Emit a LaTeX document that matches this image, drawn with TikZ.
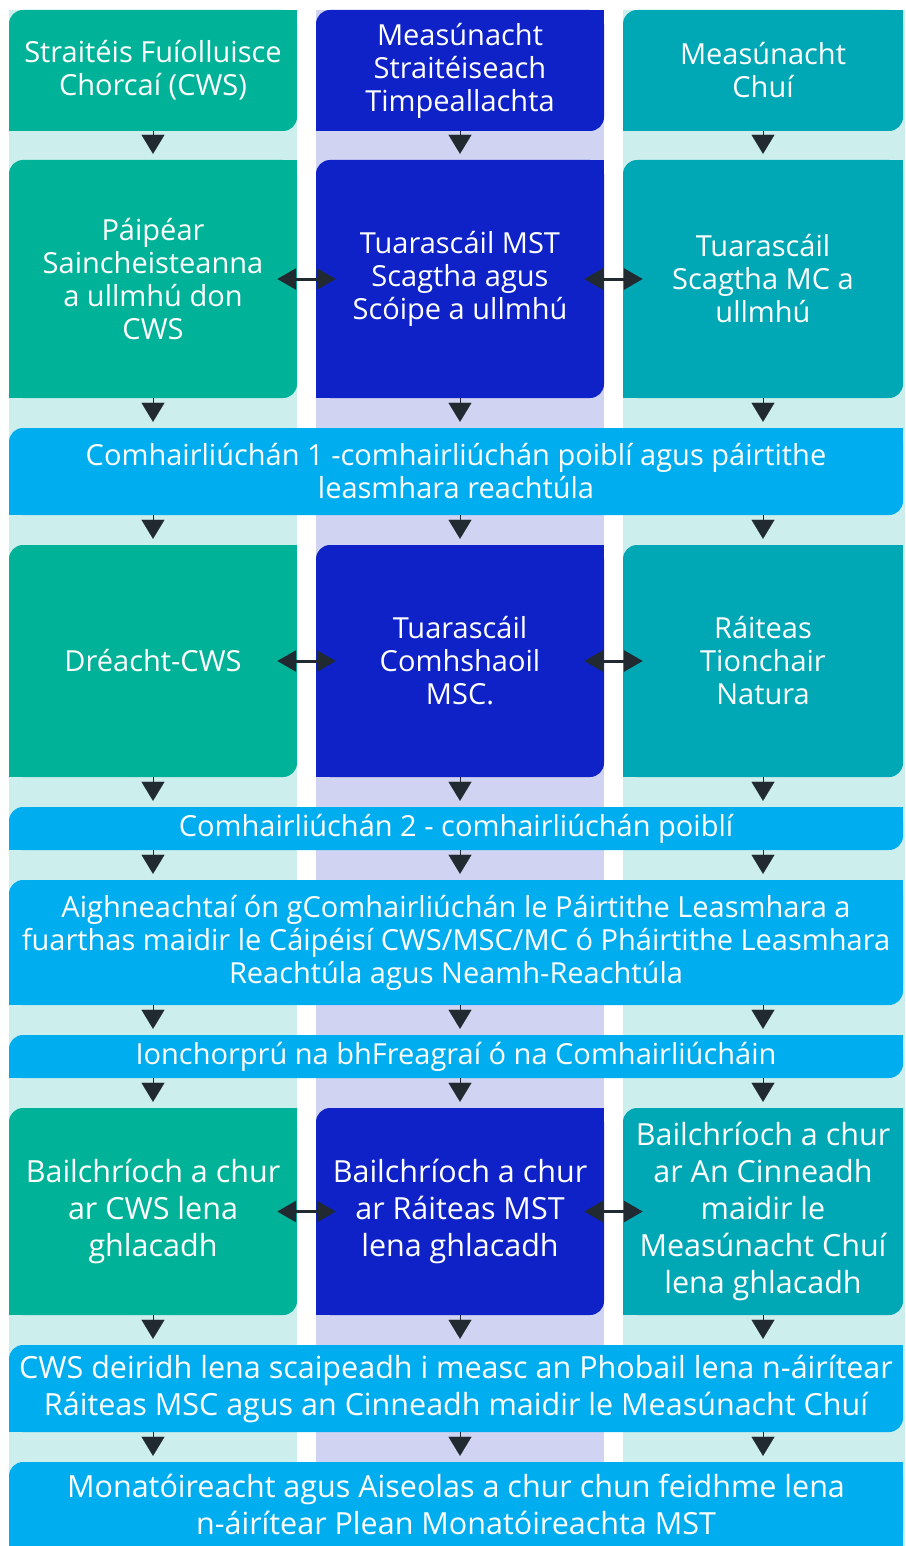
\documentclass[tikz,border=0pt]{standalone}
\usepackage{fontspec}
\setmainfont{Open Sans}
\usetikzlibrary{arrows.meta}

\definecolor{leafgreen}{HTML}{00B398}
\definecolor{deepblue}{HTML}{0E22C8}
\definecolor{aquateal}{HTML}{00A8B5}
\definecolor{skyblue}{HTML}{00AEEF}
\definecolor{paleteal}{HTML}{CCEEEC}
\definecolor{palelilac}{HTML}{D0D3F2}
\definecolor{arrowdark}{HTML}{212A30}

\pgfdeclarelayer{background}
\pgfsetlayers{background,main}

\begin{document}
\begin{tikzpicture}[x=1pt, y=-1pt,
    box/.style={fill=#1, rounded corners=14pt, text=white, align=center,
        inner sep=0pt, font=\fontsize{29}{33}\selectfont},
    colbox/.style={box=#1, minimum width=288pt},
    widebox/.style={box=skyblue, minimum width=894pt},
    big/.style={font=\fontsize{30.5}{37}\selectfont},
    flow/.style={arrowdark, line width=0.1pt, shorten >=6pt,
        -{Triangle[width=23pt,length=19pt]}},
    link/.style={arrowdark, line width=3pt, shorten <=-20pt, shorten >=-20pt,
        {Triangle[width=21pt,length=19pt]}-{Triangle[width=21pt,length=19pt]}}
]

\useasboundingbox (0,0) rectangle (905,1546);
\clip (0,0) rectangle (905,1546);

% Column lanes
\begin{pgfonlayer}{background}
\fill[paleteal] (9,10) rectangle (297,1546);
\fill[palelilac] (316,10) rectangle (604,1546);
\fill[paleteal] (623,10) rectangle (905,1546);
\end{pgfonlayer}

% Row 1
\node[colbox=leafgreen, minimum height=121pt] (l1) at (153,70.5) {Straitéis Fuíolluisce\\Chorcaí (CWS)};
\node[colbox=deepblue, minimum height=121pt] (m1) at (460,70.5) {Measúnacht\\Straitéiseach\\Timpeallachta};
\node[colbox=aquateal, minimum height=121pt, minimum width=280pt] (r1) at (763,70.5) {Measúnacht\\Chuí};

% Row 2
\node[colbox=leafgreen, minimum height=238pt] (l2) at (153,279) {Páipéar\\Saincheisteanna\\a ullmhú don\\CWS};
\node[colbox=deepblue, minimum height=238pt] (m2) at (460,279) {Tuarascáil MST\\Scagtha agus\\Scóipe a ullmhú};
\node[colbox=aquateal, minimum height=238pt, minimum width=280pt] (r2) at (763,279) {Tuarascáil\\Scagtha MC a\\ullmhú};

% Consultation 1
\node[widebox, minimum height=87pt] (w1) at (456,471.5) {Comhairliúchán 1 -comhairliúchán poiblí agus páirtithe\\leasmhara reachtúla};

% Row 3
\node[colbox=leafgreen, minimum height=232pt] (l3) at (153,661) {Dréacht-CWS};
\node[colbox=deepblue, minimum height=232pt] (m3) at (460,661) {Tuarascáil\\Comhshaoil\\MSC.};
\node[colbox=aquateal, minimum height=232pt, minimum width=280pt] (r3) at (763,661) {Ráiteas\\Tionchair\\Natura};

% Consultation 2 and submissions
\node[widebox, minimum height=43pt] (w2) at (456,828.5) {Comhairliúchán 2 - comhairliúchán poiblí};
\node[widebox, minimum height=125pt] (w3) at (456,942.5) {Aighneachtaí ón gComhairliúchán le Páirtithe Leasmhara a\\fuarthas maidir le Cáipéisí CWS/MSC/MC ó Pháirtithe Leasmhara\\Reachtúla agus Neamh-Reachtúla};
\node[widebox, minimum height=43pt] (w4) at (456,1056.5) {Ionchorprú na bhFreagraí ó na Comhairliúcháin};

% Row 4
\node[colbox=leafgreen, big, minimum height=207pt] (l4) at (153,1211.5) {Bailchríoch a chur\\ar CWS lena\\ghlacadh};
\node[colbox=deepblue, big, minimum height=207pt] (m4) at (460,1211.5) {Bailchríoch a chur\\ar Ráiteas MST\\lena ghlacadh};
\node[colbox=aquateal, big, minimum height=207pt, minimum width=280pt] (r4) at (763,1211.5) {Bailchríoch a chur\\ar An Cinneadh\\maidir le\\Measúnacht Chuí\\lena ghlacadh};

% Final steps
\node[widebox, big, minimum height=87pt] (w5) at (456,1388.5) {CWS deiridh lena scaipeadh i measc an Phobail lena n-áirítear\\Ráiteas MSC agus an Cinneadh maidir le Measúnacht Chuí};
\node[widebox, big, minimum height=84pt] (w6) at (456,1504) {Monatóireacht agus Aiseolas a chur chun feidhme lena\\n-áirítear Plean Monatóireachta MST};

% Square off top-right and bottom-left corners
\begin{pgfonlayer}{background}
\foreach \n/\c in {l1/leafgreen, m1/deepblue, r1/aquateal,
    l2/leafgreen, m2/deepblue, r2/aquateal, w1/skyblue,
    l3/leafgreen, m3/deepblue, r3/aquateal, w2/skyblue, w3/skyblue, w4/skyblue,
    l4/leafgreen, m4/deepblue, r4/aquateal, w5/skyblue, w6/skyblue} {
    \fill[\c] (\n.south west) rectangle ++(14pt,14pt);
    \fill[\c] (\n.north east) rectangle ++(-14pt,-14pt);
}
% last box runs off the page
\fill[skyblue] (w6.south east) rectangle ++(-14pt,14pt);
\end{pgfonlayer}

% Downward flow in each lane
\foreach \c in {l,m,r} {
    \draw[flow] (\c1.south) -- (\c2.north);
    \draw[flow] (\c2.south) -- (w1.north -| \c2);
    \draw[flow] (w1.south -| \c3) -- (\c3.north);
    \draw[flow] (\c3.south) -- (w2.north -| \c3);
    \draw[flow] (w2.south -| \c3) -- (w3.north -| \c3);
    \draw[flow] (w3.south -| \c3) -- (w4.north -| \c3);
    \draw[flow] (w4.south -| \c4) -- (\c4.north);
    \draw[flow] (\c4.south) -- (w5.north -| \c4);
    \draw[flow] (w5.south -| \c4) -- (w6.north -| \c4);
}

% Links between lanes
\foreach \r in {2,3,4} {
    \draw[link] (l\r.east) -- (m\r.west);
    \draw[link] (m\r.east) -- (r\r.west);
}

\end{tikzpicture}
\end{document}
